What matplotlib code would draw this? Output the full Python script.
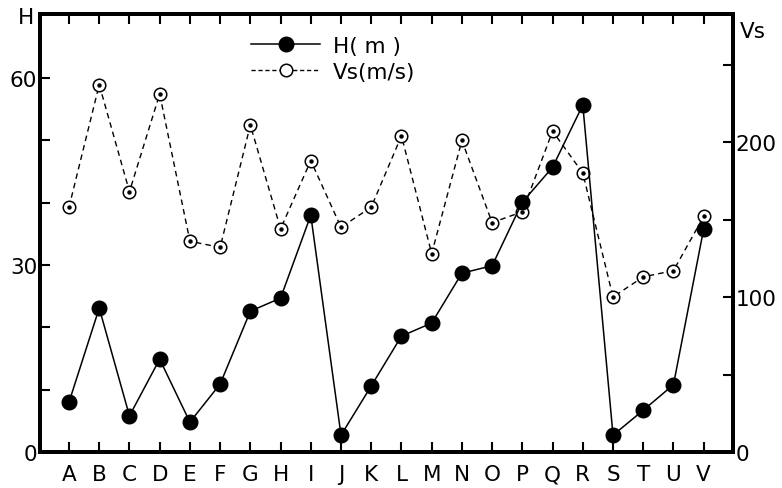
import numpy as np
import matplotlib
matplotlib.use("Agg")
import matplotlib.pyplot as plt
from matplotlib.lines import Line2D

cats = list("ABCDEFGHIJKLMNOPQRSTUV")
h_m = [8.0, 23.1, 5.8, 14.9, 4.8, 10.9, 22.6, 24.7, 38.0, 2.7, 10.6,
       18.6, 20.7, 28.7, 29.9, 40.1, 45.7, 55.7, 2.7, 6.7, 10.8, 35.8]
vs_ms = [158, 237, 168, 231, 136, 132, 211, 144, 188, 145, 158,
         204, 128, 201, 148, 155, 207, 180, 100, 113, 117, 152]
h_ticks = [0, 30, 60]
vs_ticks = [0, 100, 200]

plt.rcParams["font.family"] = "DejaVu Sans"
fs = 15.5

fig = plt.figure(figsize=(7.82, 4.89), dpi=100)
ax = fig.add_axes([40/782, 1-453/489, 693/782, 438/489])
ax2 = ax.twinx()

x = np.arange(len(cats))

# Vs (right axis), dashed with dotted open circles
ax2.plot(x, vs_ms, ls=(0, (4, 3)), color="black", lw=1.0,
         marker="o", ms=9, mfc="white", mec="black", mew=1.1, zorder=2)
ax2.plot(x, vs_ms, ls="none", marker="o", ms=2.2, color="black", zorder=3)

# H (left axis) on top
ax.set_zorder(ax2.get_zorder() + 1)
ax.patch.set_visible(False)
ax.plot(x, h_m, color="black", lw=1.1, marker="o", ms=10.5,
        mfc="black", mec="black", zorder=4)

ax.set_xlim(-0.96, 21.97)
ax.set_ylim(0, 70.3)
ax2.set_ylim(0, 282.6)

ax.set_xticks(x)
ax.set_xticklabels(cats, fontsize=fs)
ax.set_yticks(np.arange(0, 70, 10))
ax.set_yticklabels([str(v) if v in h_ticks else "" for v in np.arange(0, 70, 10)], fontsize=fs)
ax2.set_yticks(np.arange(0, 300, 50))
ax2.set_yticklabels([str(v) if v in vs_ticks else "" for v in np.arange(0, 300, 50)], fontsize=fs)

ax.tick_params(axis="x", direction="in", length=7, width=1.5, top=True, pad=9)
ax.tick_params(axis="y", direction="in", length=7, width=1.5, pad=2)
ax2.tick_params(axis="y", direction="in", length=7, width=1.5, pad=2)

for a in (ax, ax2):
    for s in a.spines.values():
        s.set_linewidth(2.8)

fig.text(26/782, 1-18/489, "H", fontsize=fs, ha="center", va="center")
fig.text(753/782, 1-32/489, "Vs", fontsize=fs, ha="center", va="center")

handles = [
    Line2D([], [], color="black", lw=1.1, marker="o", ms=10.5, mfc="black"),
    Line2D([], [], color="black", lw=1.0, ls=(0, (3, 2)), marker="o", ms=9,
           mfc="white", mec="black", mew=1.1),
]
ax.legend(handles, ["H( m )", "Vs(m/s)"], loc="upper left",
          bbox_to_anchor=(192/693, 0.995), frameon=False, fontsize=fs,
          handlelength=3.2, handletextpad=0.6, labelspacing=0.3)

fig.savefig("out.png", dpi=100)
